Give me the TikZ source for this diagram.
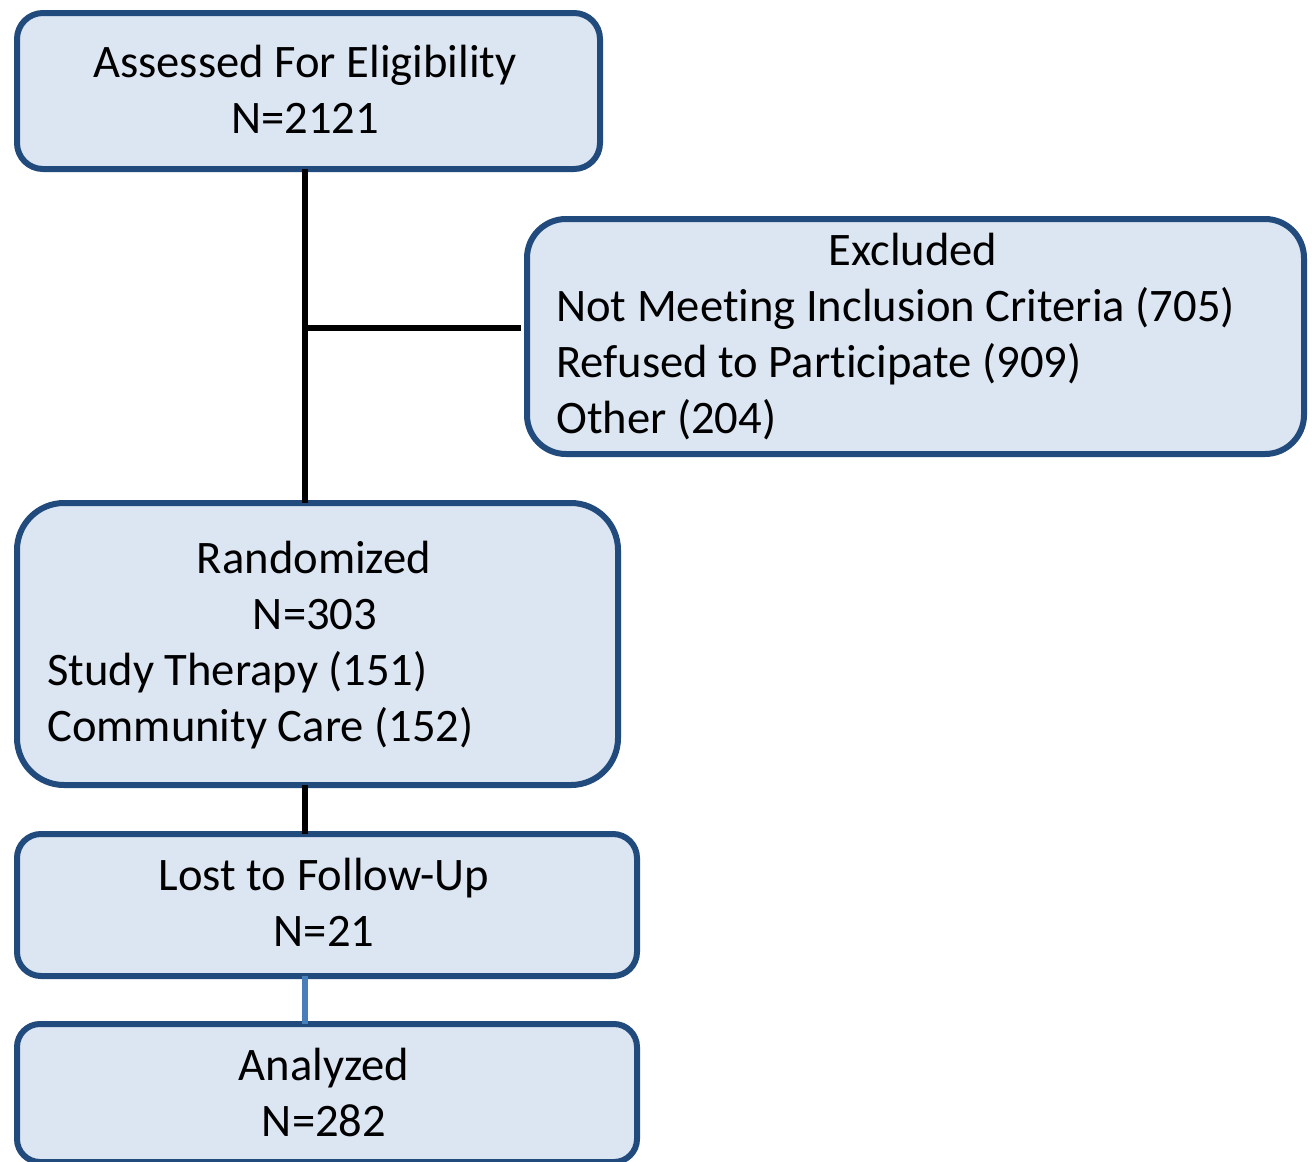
\documentclass[tikz,border=0pt]{standalone}
\usepackage{fontspec}
\setmainfont[Ligatures=NoCommon]{Carlito}
\definecolor{boxfill}{HTML}{DCE6F2}
\definecolor{boxdraw}{HTML}{214A7D}
\definecolor{lineblue}{HTML}{4A7EBB}
\begin{document}
\begin{tikzpicture}[x=1pt,y=-1pt,
  box/.style={draw=boxdraw,fill=boxfill,line width=6pt,inner sep=0pt,anchor=north west,rectangle},
  txt/.style={font=\fontsize{46.6}{56}\selectfont,inner sep=0pt,text=black},
  conn/.style={line width=6pt,black},
  connb/.style={line width=6pt,lineblue}]
\useasboundingbox (0,0) rectangle (1312,1162);
\node[box,minimum width=583pt,minimum height=156pt,rounded corners=26pt] (assess) at (14,10) {};
\node[box,minimum width=777pt,minimum height=235pt,rounded corners=39pt] (excl) at (524,216) {};
\node[box,minimum width=601pt,minimum height=282pt,rounded corners=47pt] (rand) at (14,500) {};
\node[box,minimum width=620pt,minimum height=142pt,rounded corners=24pt] (lost) at (14,831) {};
\node[box,minimum width=620pt,minimum height=138pt,rounded corners=23pt] (anal) at (14,1021) {};
% texts
\node[txt,anchor=base] (t1) at (305,77) {Assessed For Eligibility};
\node[txt,anchor=base] (t2) at (305,133) {N=2121};
\node[txt,anchor=base] (t3) at (913,265) {Excluded};
\node[txt,anchor=base west] (t4) at (556,321) {Not Meeting Inclusion Criteria (705)};
\node[txt,anchor=base west] (t5) at (556,377) {Refused to Participate (909)};
\node[txt,anchor=base west] (t6) at (556,433) {Other (204)};
\node[txt,anchor=base] (t7) at (314,573) {Randomized};
\node[txt,anchor=base] (t8) at (315,629) {N=303};
\node[txt,anchor=base west] (t9) at (47,685) {Study Therapy (151)};
\node[txt,anchor=base west] (t10) at (47,741) {Community Care (152)};
\node[txt,anchor=base] (t11) at (324,890) {Lost to Follow-Up};
\node[txt,anchor=base] (t12) at (324,946) {N=21};
\node[txt,anchor=base] (t13) at (324,1080) {Analyzed};
\node[txt,anchor=base] (t14) at (324,1136) {N=282};
% connectors
\coordinate (split) at (305,328);
\draw[conn] ([yshift=3pt]assess.south -| split) -- ([yshift=-3pt]rand.north -| split);
\draw[conn] (split) -- ([xshift=-3pt]excl.west |- split);
\draw[conn] ([yshift=3pt]rand.south -| split) -- ([yshift=-3pt]lost.north -| split);
\draw[connb] ([yshift=3pt]lost.south -| split) -- ([yshift=-3pt]anal.north -| split);
\end{tikzpicture}
\end{document}
